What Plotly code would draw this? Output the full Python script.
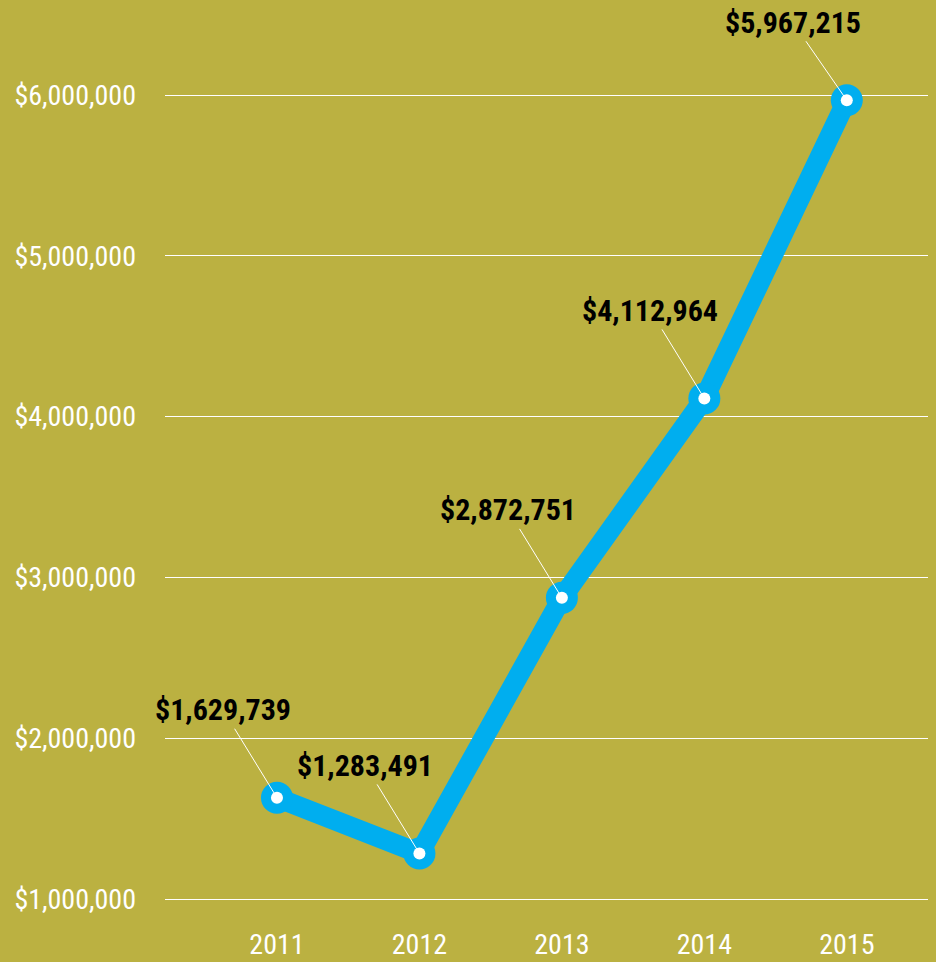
import plotly.graph_objects as go

# 数据
years = ['2011', '2012', '2013', '2014', '2015']
amounts = [1629739, 1283491, 2872751, 4112964, 5967215]
labels = ['$1,629,739', '$1,283,491', '$2,872,751', '$4,112,964', '$5,967,215']
y_ticks = [1000000, 2000000, 3000000, 4000000, 5000000, 6000000]
y_tick_text = ['$1,000,000', '$2,000,000', '$3,000,000', '$4,000,000', '$5,000,000', '$6,000,000']

BG = '#bbb141'
BLUE = '#00aeef'
FONT = 'Roboto Condensed, Liberation Sans Narrow, DejaVu Sans Condensed, sans-serif'

fig = go.Figure()

# 粗蓝线 + 大圆点
fig.add_trace(go.Scatter(
    x=years, y=amounts,
    mode='lines+markers',
    line=dict(color=BLUE, width=20),
    marker=dict(color=BLUE, size=32),
    hoverinfo='skip',
))

# 白色小圆心
fig.add_trace(go.Scatter(
    x=years, y=amounts,
    mode='markers',
    marker=dict(color='white', size=12),
    hoverinfo='skip',
))

# 数值标注（类别轴上用序号定位）
for i, (val, txt) in enumerate(zip(amounts, labels)):
    fig.add_annotation(
        x=i, y=val, text=f'<b>{txt}</b>',
        showarrow=True, arrowhead=0, arrowwidth=1, arrowcolor='white',
        ax=-54, ay=-78 if i == len(amounts) - 1 else -88,
        font=dict(family=FONT, size=30, color='black'),
    )

fig.update_layout(
    width=936, height=962,
    paper_bgcolor=BG, plot_bgcolor=BG,
    showlegend=False,
    margin=dict(l=165, r=8, t=0, b=32),
    font=dict(family=FONT, color='white', size=28),
)

fig.update_xaxes(
    type='category', range=[-0.786, 4.57],
    showgrid=False, showline=False, zeroline=False,
    automargin=False,
    ticklabelstandoff=-5,
    tickfont=dict(family=FONT, size=28, color='white'),
)
fig.update_yaxes(
    range=[807200, 6590800],
    tickvals=y_ticks, ticktext=y_tick_text,
    showgrid=True, gridcolor='white', gridwidth=1,
    showline=False, zeroline=False,
    automargin=False,
    ticklabelstandoff=28,
    tickfont=dict(family=FONT, size=28, color='white'),
)

fig.write_html('out.html', config={'displayModeBar': False},
               post_script="document.body.style.margin='0';")
